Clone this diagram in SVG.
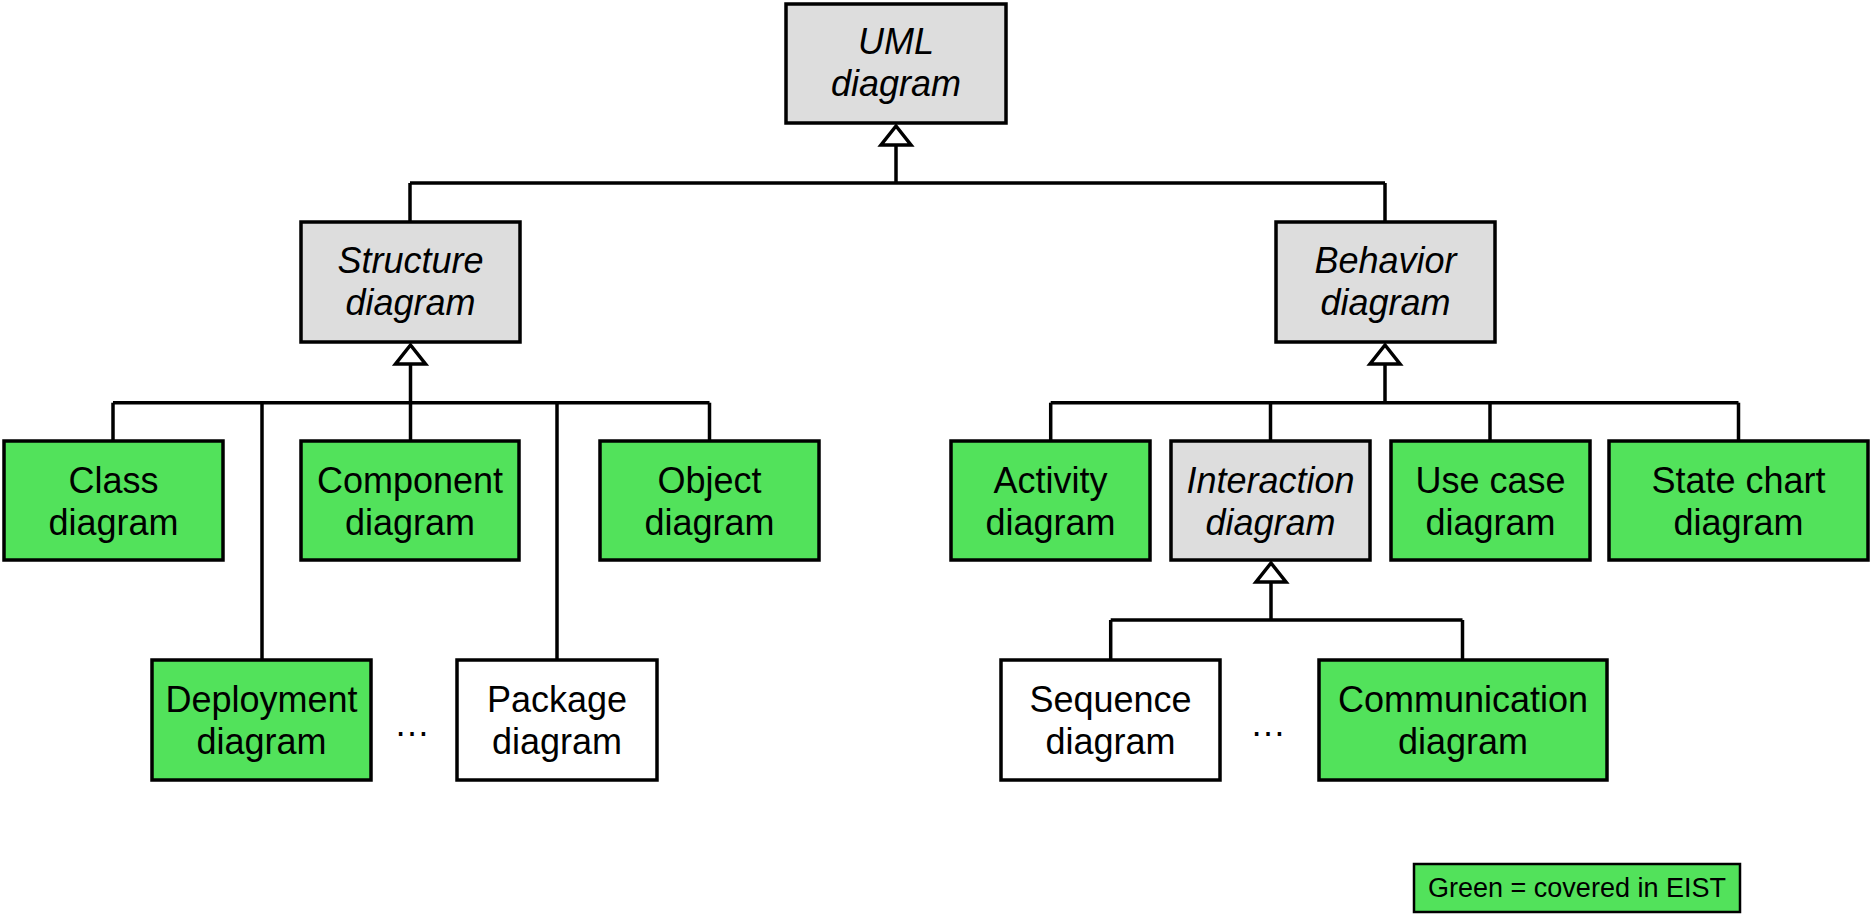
<svg xmlns="http://www.w3.org/2000/svg" width="1870" height="916" viewBox="0 0 1870 916">
<style>
  .box { stroke: #000; stroke-width: 3.5; }
  .abs { fill: #dddddd; }
  .grn { fill: #52e25b; }
  .wht { fill: #ffffff; }
  .lbl { font-family: "Liberation Sans", Arial, sans-serif; font-size: 36px; fill: #000; text-anchor: middle; }
  .it { font-style: italic; }
  .conn line { stroke: #000; stroke-width: 3.5; }
  .conn polygon { fill: #fff; stroke: #000; stroke-width: 3.5; stroke-linejoin: miter; }
</style>
<rect width="1870" height="916" fill="#fff"/>

<g id="connectors" class="conn">
  <!-- UML generalization -->
  <line x1="896" y1="145" x2="896" y2="183"/>
  <line x1="410" y1="183" x2="1385" y2="183"/>
  <line x1="410" y1="183" x2="410" y2="222"/>
  <line x1="1385" y1="183" x2="1385" y2="222"/>
  <polygon points="896,126 881,145 911,145"/>
  <!-- Structure generalization -->
  <line x1="410.5" y1="364" x2="410.5" y2="402.7"/>
  <line x1="113" y1="402.7" x2="709.5" y2="402.7"/>
  <line x1="113" y1="402.7" x2="113" y2="441"/>
  <line x1="410.5" y1="402.7" x2="410.5" y2="441"/>
  <line x1="709.5" y1="402.7" x2="709.5" y2="441"/>
  <line x1="262" y1="402.7" x2="262" y2="660"/>
  <line x1="557" y1="402.7" x2="557" y2="660"/>
  <polygon points="410.5,345 395.5,364 425.5,364"/>
  <!-- Behavior generalization -->
  <line x1="1385" y1="364" x2="1385" y2="402.7"/>
  <line x1="1050.7" y1="402.7" x2="1738.5" y2="402.7"/>
  <line x1="1050.7" y1="402.7" x2="1050.7" y2="441"/>
  <line x1="1270.5" y1="402.7" x2="1270.5" y2="441"/>
  <line x1="1490" y1="402.7" x2="1490" y2="441"/>
  <line x1="1738.5" y1="402.7" x2="1738.5" y2="441"/>
  <polygon points="1385,345 1370,364 1400,364"/>
  <!-- Interaction generalization -->
  <line x1="1271" y1="582" x2="1271" y2="620"/>
  <line x1="1110.7" y1="620" x2="1462.5" y2="620"/>
  <line x1="1110.7" y1="620" x2="1110.7" y2="660"/>
  <line x1="1462.5" y1="620" x2="1462.5" y2="660"/>
  <polygon points="1271,563 1256,582 1286,582"/>
</g>

<g id="uml">
  <rect class="box abs" x="786" y="4" width="220" height="119"/>
  <text class="lbl it" x="896" y="54">UML</text>
  <text class="lbl it" x="896" y="96">diagram</text>
</g>

<g id="structure">
  <rect class="box abs" x="301" y="222" width="219" height="120"/>
  <text class="lbl it" x="410.5" y="273">Structure</text>
  <text class="lbl it" x="410.5" y="315">diagram</text>
</g>

<g id="behavior">
  <rect class="box abs" x="1276" y="222" width="219" height="120"/>
  <text class="lbl it" x="1385.5" y="273">Behavior</text>
  <text class="lbl it" x="1385.5" y="315">diagram</text>
</g>

<g id="class">
  <rect class="box grn" x="4" y="441" width="219" height="119"/>
  <text class="lbl" x="113.5" y="492.5">Class</text>
  <text class="lbl" x="113.5" y="534.5">diagram</text>
</g>

<g id="component">
  <rect class="box grn" x="301" y="441" width="218" height="119"/>
  <text class="lbl" x="410" y="492.5">Component</text>
  <text class="lbl" x="410" y="534.5">diagram</text>
</g>

<g id="object">
  <rect class="box grn" x="600" y="441" width="219" height="119"/>
  <text class="lbl" x="709.5" y="492.5">Object</text>
  <text class="lbl" x="709.5" y="534.5">diagram</text>
</g>

<g id="activity">
  <rect class="box grn" x="951" y="441" width="199" height="119"/>
  <text class="lbl" x="1050.5" y="492.5">Activity</text>
  <text class="lbl" x="1050.5" y="534.5">diagram</text>
</g>

<g id="interaction">
  <rect class="box abs" x="1171" y="441" width="199" height="119"/>
  <text class="lbl it" x="1270.5" y="492.5">Interaction</text>
  <text class="lbl it" x="1270.5" y="534.5">diagram</text>
</g>

<g id="usecase">
  <rect class="box grn" x="1391" y="441" width="199" height="119"/>
  <text class="lbl" x="1490.5" y="492.5">Use case</text>
  <text class="lbl" x="1490.5" y="534.5">diagram</text>
</g>

<g id="statechart">
  <rect class="box grn" x="1609" y="441" width="259" height="119"/>
  <text class="lbl" x="1738.5" y="492.5">State chart</text>
  <text class="lbl" x="1738.5" y="534.5">diagram</text>
</g>

<g id="deployment">
  <rect class="box grn" x="152" y="660" width="219" height="120"/>
  <text class="lbl" x="261.5" y="711.5">Deployment</text>
  <text class="lbl" x="261.5" y="753.5">diagram</text>
</g>

<g id="package">
  <rect class="box wht" x="457" y="660" width="200" height="120"/>
  <text class="lbl" x="557" y="711.5">Package</text>
  <text class="lbl" x="557" y="753.5">diagram</text>
</g>

<g id="sequence">
  <rect class="box wht" x="1001" y="660" width="219" height="120"/>
  <text class="lbl" x="1110.5" y="711.5">Sequence</text>
  <text class="lbl" x="1110.5" y="753.5">diagram</text>
</g>

<g id="communication">
  <rect class="box grn" x="1319" y="660" width="288" height="120"/>
  <text class="lbl" x="1463" y="711.5">Communication</text>
  <text class="lbl" x="1463" y="753.5">diagram</text>
</g>

<g id="ellipsis-structure">
  <text class="lbl" x="412" y="736">…</text>
</g>
<g id="ellipsis-interaction">
  <text class="lbl" x="1268" y="736">…</text>
</g>

<g id="legend">
  <rect x="1414" y="864" width="326" height="48" fill="#52e25b" stroke="#000" stroke-width="2.5"/>
  <text x="1577" y="897" font-family="Liberation Sans, Arial, sans-serif" font-size="27" text-anchor="middle" fill="#000">Green = covered in EIST</text>
</g>
</svg>
